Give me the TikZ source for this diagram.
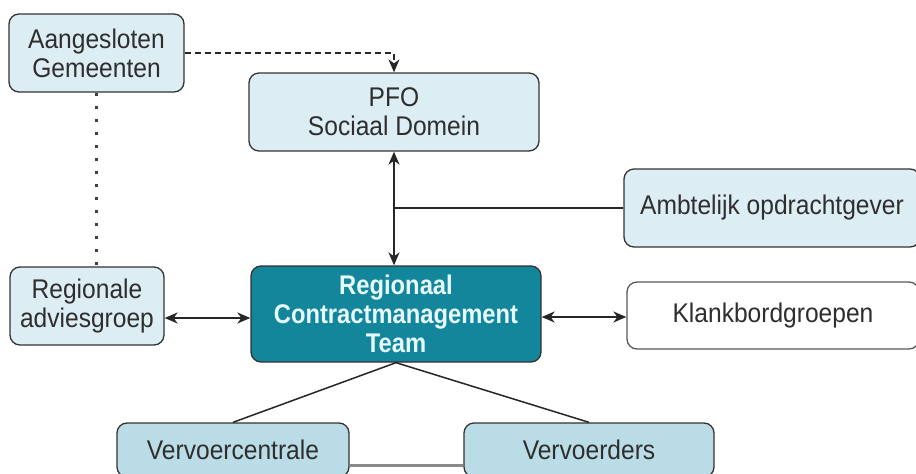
\documentclass[tikz,border=0pt]{standalone}
\usepackage{fontspec}
\setmainfont{Liberation Sans}[FakeStretch=0.91, BoldFeatures={FakeStretch=0.88}]
\usetikzlibrary{arrows.meta}
\definecolor{lblue}{HTML}{DCEDF4}
\definecolor{mblue}{HTML}{B9DCE6}
\definecolor{rctteal}{HTML}{14869B}
\definecolor{rcttext}{HTML}{E6FBFF}
\definecolor{txtgray}{HTML}{2E2E2E}
\definecolor{linegray}{HTML}{8A8A8A}
\tikzset{
  box/.style={draw=black!80, line width=1.3pt, rounded corners=10pt, fill=lblue,
    text=txtgray, align=center, inner sep=0pt,
    font=\fontsize{27}{29}\selectfont},
  conn/.style={draw=black!85, line width=1.5pt},
  tip/.style={-{Stealth[length=13pt,width=11pt,inset=4pt]}},
  dtip/.style={{Stealth[length=13pt,width=11pt,inset=4pt]}-{Stealth[length=13pt,width=11pt,inset=4pt]}},
  dashconn/.style={draw=black!85, line width=1.3pt, dash pattern=on 6pt off 4pt},
  dotconn/.style={draw=black!75, line width=3pt, dash pattern=on 3pt off 10pt}
}
\begin{document}
\begin{tikzpicture}[x=1pt,y=-1pt]
\useasboundingbox (0,0) rectangle (916,474);
\clip (0,0) rectangle (916,474);
\fill[white] (0,0) rectangle (916,474);

\node[box, minimum width=175pt, minimum height=78pt] (ag) at (96.5,53) {Aangesloten\\Gemeenten};
\node[box, minimum width=290pt, minimum height=78pt] (pfo) at (394,112) {PFO\\Sociaal Domein};
\node[box, minimum width=296pt, minimum height=78pt] (amb) at (772,208) {Ambtelijk opdrachtgever};
\node[box, minimum width=154pt, minimum height=78pt] (reg) at (87,306) {Regionale\\adviesgroep};
\node[box, fill=rctteal, text=rcttext, font=\fontsize{27}{29}\selectfont\bfseries,
      minimum width=290pt, minimum height=96pt] (rct) at (396,314) {Regionaal\\Contractmanagement\\Team};
\node[box, fill=white, draw=black!65, minimum width=292pt, minimum height=67pt] (kb) at (773,315.5) {Klankbordgroepen};
\node[box, fill=mblue, minimum width=232pt, minimum height=54pt] (vc) at (233,450) {Vervoercentrale};
\node[box, fill=mblue, minimum width=250pt, minimum height=54pt] (vv) at (589,450) {Vervoerders};

\draw[dashconn, tip] (ag.east) -| (pfo.north);
\draw[dotconn] (ag.south) -- (ag.south |- reg.north);
\draw[conn, dtip] (pfo.south) -- (pfo.south |- rct.north);
\draw[conn] (amb.west) -- (amb.west -| pfo.south);
\draw[conn, dtip] ([yshift=-12pt]reg.east) -- ([yshift=-12pt]reg.east -| rct.west);
\draw[conn, dtip] ([yshift=-3pt]rct.east) -- ([yshift=-3pt]rct.east -| kb.west);
\draw[conn] (rct.south) -- (vc.north);
\draw[conn] (rct.south) -- (vv.north);
\draw[draw=linegray, line width=3pt] ([yshift=-15pt]vc.east) -- ([yshift=-15pt]vc.east -| vv.west);
\end{tikzpicture}
\end{document}
